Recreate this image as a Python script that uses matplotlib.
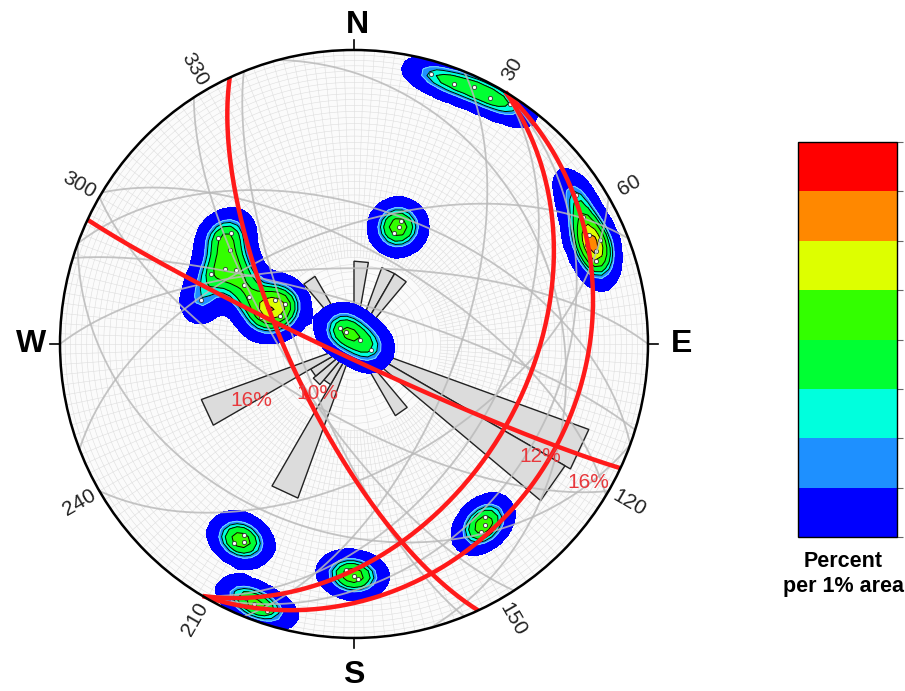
import numpy as np
import matplotlib
matplotlib.use('Agg')
from matplotlib import pyplot as plt
from matplotlib.patches import Circle, Polygon
from matplotlib.collections import LineCollection
from matplotlib.colors import ListedColormap, BoundaryNorm

plt.rcParams['font.family'] = ['Liberation Sans', 'DejaVu Sans']

#%% data
# poles to planes, trend / plunge in degrees
pole_trend = [16, 21, 25, 29, 33,
              56, 61, 65, 69, 71, 67, 67,
              21, 21, 20,
              308, 302, 294, 293, 300, 296, 286, 299, 286, 307, 298, 291, 312, 300,
              328, 108, 56, 319,
              209, 211, 210,
              201, 198, 203,
              180, 182, 179,
              144, 146, 143]
pole_plunge = [5, 6, 4, 5, 3,
               10, 12, 13, 13, 14, 15, 10,
               55, 53, 57,
               41, 51, 58, 64, 68, 45, 45, 65, 63, 46, 55, 68, 43, 48,
               86, 85, 88, 84,
               24, 22, 26,
               6, 5, 7,
               22, 24, 21,
               25, 24, 27]

# great circles: dip direction / dip
red_dd = [245, 205, 121, 121]
red_dip = [72, 86, 41, 24]
gray_dd = [237, 248, 31, 20, 339, 200, 121, 121, 0, 17, 210, 150, 75, 112]
gray_dip = [72, 75, 65, 52, 58, 36, 48, 31, 69, 79, 70, 55, 30, 62]

# rose diagram: bin start azimuth (10 deg bins) and percent
rose_start = [0, 20, 30, 110, 120, 140, 200, 210, 220, 230, 240, 320]
rose_pct = [5.3, 5.2, 5.2, 16.0, 15.6, 5.3, 10.5, 3.0, 3.4, 3.2, 10.4, 5.0]
rose_labels = ['16%', '10%', '12%', '16%']
rose_label_az = [241, 216, 121, 120.7]
rose_label_r = [0.40, 0.21, 0.74, 0.925]

# density contour levels and fill colours
levels = [0.25, 1.0, 1.25, 1.6, 2.2, 3.0, 3.7, 4.4, 8.0]
band_colors = ['#0000ff', '#1e90ff', '#00ffdd', '#00ff33',
               '#33ff00', '#ddff00', '#ff8800', '#ff0000']

az_labels = [30, 60, 120, 150, 210, 240, 300, 330]


#%% helpers (lower hemisphere, equal area)
def to_vec(trend, plunge):
    t, p = np.radians(trend), np.radians(plunge)
    return np.stack([np.cos(p) * np.sin(t), np.cos(p) * np.cos(t), np.sin(p)], -1)


def project(v):
    s = 1.0 / np.sqrt(1.0 + v[..., 2])
    return v[..., 0] * s, v[..., 1] * s


def great_circle(dd, dip, n=200):
    st, dp, d = np.radians(dd - 90), np.radians(dip), np.radians(dd)
    sv = np.array([np.sin(st), np.cos(st), 0.0])
    dv = np.array([np.sin(d) * np.cos(dp), np.cos(d) * np.cos(dp), np.sin(dp)])
    t = np.linspace(0, np.pi, n)
    v = np.outer(np.cos(t), sv) + np.outer(np.sin(t), dv)
    return project(v)


def radius(plunge):
    return np.sqrt(2) * np.sin(np.radians(90 - plunge) / 2)


#%% figure
fig = plt.figure(figsize=(9.05, 6.91), dpi=100)
ax = fig.add_axes([0.0338, 0.0342, 0.7147, 0.936])
ax.set_xlim(-1.1, 1.1)
ax.set_ylim(-1.1, 1.1)
ax.set_aspect('equal')
ax.axis('off')

net = Circle((0, 0), 1, facecolor='#fbfbfb', edgecolor='none', zorder=0)
ax.add_patch(net)

# polar grid
segs = []
th = np.linspace(0, 2 * np.pi, 361)
for p in range(2, 90, 2):
    r = radius(p)
    segs.append(np.column_stack([r * np.sin(th), r * np.cos(th)]))
for a in range(0, 360, 2):
    r_in = radius(80 if a % 10 == 0 else 66)
    ar = np.radians(a)
    segs.append([(r_in * np.sin(ar), r_in * np.cos(ar)), (np.sin(ar), np.cos(ar))])
ax.add_collection(LineCollection(segs, colors='#dedede', linewidths=0.4, zorder=1))

# rose diagram
rose_scale = 0.85 / 16.0
for a0, pct in zip(rose_start, rose_pct):
    L = pct * rose_scale
    a = np.radians([a0, a0 + 10])
    pts = [(0, 0), (L * np.sin(a[0]), L * np.cos(a[0])), (L * np.sin(a[1]), L * np.cos(a[1]))]
    ax.add_patch(Polygon(pts, closed=True, facecolor='#dcdcdc', edgecolor='#222222',
                         linewidth=1.0, zorder=2))

# pole density
gx, gy = np.meshgrid(np.linspace(-1.1, 1.1, 95), np.linspace(-1.1, 1.1, 95))
gr = np.hypot(gx, gy)
gz = 1 - gr ** 2
h = np.sqrt(np.clip(1 - gz ** 2, 0, None))
with np.errstate(invalid='ignore', divide='ignore'):
    gvx = np.where(gr > 0, gx / gr * h, 0)
    gvy = np.where(gr > 0, gy / gr * h, 0)
gv = np.stack([gvx, gvy, gz], -1)
pv = to_vec(np.array(pole_trend), np.array(pole_plunge))
sigma = 0.064
dens = np.exp((gv @ pv.T - 1) / sigma ** 2).sum(-1)

cmap = ListedColormap(band_colors)
norm = BoundaryNorm(levels, cmap.N)
cf = ax.contourf(gx, gy, dens, levels=levels, cmap=cmap, norm=norm, zorder=3)
cf.set_clip_path(net)
cl = ax.contour(gx, gy, dens, levels=levels[2:-1], colors='black', linewidths=0.7, zorder=3.1)
cl.set_clip_path(net)
cl2 = ax.contour(gx, gy, dens, levels=levels[1:2], colors='#7fd8ff', linewidths=0.7, zorder=3.1)
cl2.set_clip_path(net)

px, py = project(pv)
ax.plot(px, py, 'o', ms=3.0, mfc='white', mec='#333333', mew=0.6, zorder=3.2)

# great circles
for dd, dip in zip(gray_dd, gray_dip):
    x, y = great_circle(dd, dip)
    ax.plot(x, y, color='#bababa', lw=1.3, alpha=0.85, zorder=4)
for dd, dip in zip(red_dd, red_dip):
    x, y = great_circle(dd, dip)
    ax.plot(x, y, color='#ff1a1a', lw=3.2, solid_capstyle='butt', zorder=5)

for txt, az, r in zip(rose_labels, rose_label_az, rose_label_r):
    a = np.radians(az)
    ax.text(r * np.sin(a), r * np.cos(a), txt, color='#e8383c', fontsize=15,
            ha='center', va='center', zorder=6)

# outline, ticks, labels
ax.add_patch(Circle((0, 0), 1, facecolor='none', edgecolor='black', linewidth=1.8, zorder=7))
for a in (0, 90, 180, 270):
    ar = np.radians(a)
    ax.plot([np.sin(ar), 1.035 * np.sin(ar)], [np.cos(ar), 1.035 * np.cos(ar)],
            color='black', lw=1.2, zorder=7, clip_on=False)
for lab, (x, y) in zip('NESW', [(0.012, 1.085), (1.115, 0.0), (0.0, -1.125), (-1.10, 0.0)]):
    ax.text(x, y, lab, fontsize=23, fontweight='bold', ha='center', va='center', clip_on=False)
for az in az_labels:
    a = np.radians(az)
    rot = (90 - az + 90) % 180 - 90
    ax.text(1.08 * np.sin(a), 1.08 * np.cos(a), str(az), fontsize=15, color='#222222',
            rotation=rot, ha='center', va='center', rotation_mode='anchor', clip_on=False)

# colour bar
cax = fig.add_axes([798 / 905, 1 - 537 / 691, 99 / 905, 395 / 691])
cb = fig.colorbar(cf, cax=cax)
cb.outline.set_linewidth(1.0)
cax.tick_params(labelright=False, length=4, color='#666666', direction='out')
fig.text(843 / 905, 1 - 574 / 691, 'Percent\nper 1% area', fontsize=15.5, fontweight='bold',
         ha='center', va='center', linespacing=1.3)

plt.savefig('out.png', dpi=100)
